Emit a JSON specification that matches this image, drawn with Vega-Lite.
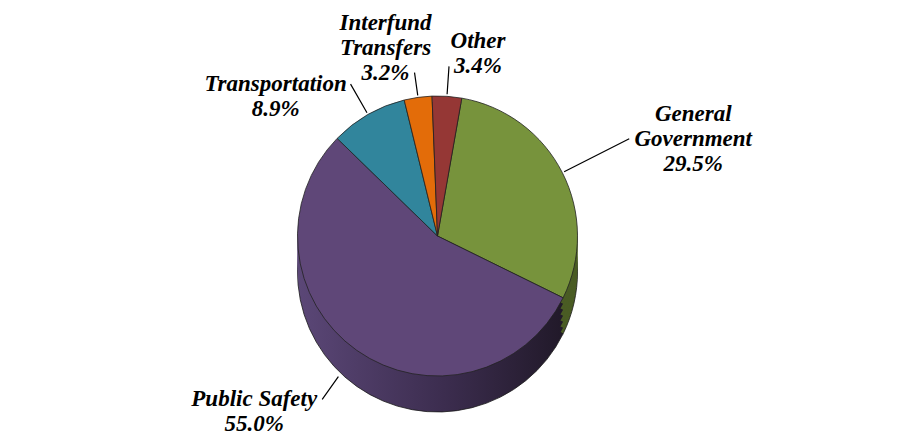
{
  "$schema": "https://vega.github.io/schema/vega-lite/v6.json",
  "width": 897,
  "height": 439,
  "padding": 0,
  "autosize": {"type": "fit", "contains": "padding"},
  "background": "white",
  "config": {
    "view": {"stroke": null},
    "text": {"font": "Liberation Serif", "fontSize": 23, "fontWeight": "bold", "fontStyle": "italic", "color": "#000000", "lineBreak": "\n", "lineHeight": 25, "align": "center", "baseline": "middle"}
  },
  "data": {
    "values": [
      {"k": 1, "name": "General Government", "pct": 29.5},
      {"k": 2, "name": "Public Safety", "pct": 55.0},
      {"k": 3, "name": "Transportation", "pct": 8.9},
      {"k": 4, "name": "Interfund Transfers", "pct": 3.2},
      {"k": 5, "name": "Other", "pct": 3.4}
    ]
  },
  "transform": [
    {"window": [{"op": "sum", "field": "pct", "as": "end"}], "sort": [{"field": "k"}], "frame": [null, 0]},
    {"calculate": "datum.end - datum.pct", "as": "start"},
    {"calculate": "datum.end - datum.pct / 2", "as": "mid"},
    {"calculate": "(datum.name === 'Public Safety' ? datum.name : replace(datum.name, ' ', '\\n')) + '\\n' + format(datum.pct, '.1f') + '%'", "as": "label"}
  ],
  "layer": [
    {
      "mark": {"type": "arc", "radius": 140, "xOffset": -11, "yOffset": 52.5, "stroke": "#1a1a1a", "strokeWidth": 0.8},
      "encoding": {
        "theta": {"field": "start", "type": "quantitative", "scale": {"domain": [0, 100], "range": [0.1745, 6.4577]}},
        "theta2": {"field": "end"},
        "fill": {
          "condition": {"test": "datum.k === 2", "value": {"gradient": "linear", "x1": 0, "y1": 0, "x2": 1, "y2": 0, "stops": [{"offset": 0, "color": "#5B4777"}, {"offset": 0.55, "color": "#3C2D4F"}, {"offset": 1, "color": "#211929"}]}},
          "field": "name", "type": "nominal",
          "scale": {"domain": ["General Government", "Public Safety", "Transportation", "Interfund Transfers", "Other"], "range": ["#4A5C24", "#3C2D4F", "#215A69", "#9A4906", "#642524"]},
          "legend": null
        }
      }
    },
    {
      "mark": {"type": "arc", "radius": 140, "xOffset": -11, "yOffset": 46.5},
      "encoding": {
        "theta": {"field": "start", "type": "quantitative", "scale": {"domain": [0, 100], "range": [0.1745, 6.4577]}},
        "theta2": {"field": "end"},
        "fill": {
          "condition": {"test": "datum.k === 2", "value": {"gradient": "linear", "x1": 0, "y1": 0, "x2": 1, "y2": 0, "stops": [{"offset": 0, "color": "#5B4777"}, {"offset": 0.55, "color": "#3C2D4F"}, {"offset": 1, "color": "#211929"}]}},
          "field": "name", "type": "nominal", "legend": null
        }
      }
    },
    {
      "mark": {"type": "arc", "radius": 140, "xOffset": -11, "yOffset": 40.5},
      "encoding": {
        "theta": {"field": "start", "type": "quantitative", "scale": {"domain": [0, 100], "range": [0.1745, 6.4577]}},
        "theta2": {"field": "end"},
        "fill": {
          "condition": {"test": "datum.k === 2", "value": {"gradient": "linear", "x1": 0, "y1": 0, "x2": 1, "y2": 0, "stops": [{"offset": 0, "color": "#5B4777"}, {"offset": 0.55, "color": "#3C2D4F"}, {"offset": 1, "color": "#211929"}]}},
          "field": "name", "type": "nominal", "legend": null
        }
      }
    },
    {
      "mark": {"type": "arc", "radius": 140, "xOffset": -11, "yOffset": 34.5},
      "encoding": {
        "theta": {"field": "start", "type": "quantitative", "scale": {"domain": [0, 100], "range": [0.1745, 6.4577]}},
        "theta2": {"field": "end"},
        "fill": {
          "condition": {"test": "datum.k === 2", "value": {"gradient": "linear", "x1": 0, "y1": 0, "x2": 1, "y2": 0, "stops": [{"offset": 0, "color": "#5B4777"}, {"offset": 0.55, "color": "#3C2D4F"}, {"offset": 1, "color": "#211929"}]}},
          "field": "name", "type": "nominal", "legend": null
        }
      }
    },
    {
      "mark": {"type": "arc", "radius": 140, "xOffset": -11, "yOffset": 28.5},
      "encoding": {
        "theta": {"field": "start", "type": "quantitative", "scale": {"domain": [0, 100], "range": [0.1745, 6.4577]}},
        "theta2": {"field": "end"},
        "fill": {
          "condition": {"test": "datum.k === 2", "value": {"gradient": "linear", "x1": 0, "y1": 0, "x2": 1, "y2": 0, "stops": [{"offset": 0, "color": "#5B4777"}, {"offset": 0.55, "color": "#3C2D4F"}, {"offset": 1, "color": "#211929"}]}},
          "field": "name", "type": "nominal", "legend": null
        }
      }
    },
    {
      "mark": {"type": "arc", "radius": 140, "xOffset": -11, "yOffset": 22.5},
      "encoding": {
        "theta": {"field": "start", "type": "quantitative", "scale": {"domain": [0, 100], "range": [0.1745, 6.4577]}},
        "theta2": {"field": "end"},
        "fill": {
          "condition": {"test": "datum.k === 2", "value": {"gradient": "linear", "x1": 0, "y1": 0, "x2": 1, "y2": 0, "stops": [{"offset": 0, "color": "#5B4777"}, {"offset": 0.55, "color": "#3C2D4F"}, {"offset": 1, "color": "#211929"}]}},
          "field": "name", "type": "nominal", "legend": null
        }
      }
    },
    {
      "mark": {"type": "arc", "radius": 140, "xOffset": -11, "yOffset": 16.5, "stroke": "#222222", "strokeWidth": 0.8},
      "encoding": {
        "theta": {"field": "start", "type": "quantitative", "scale": {"domain": [0, 100], "range": [0.1745, 6.4577]}},
        "theta2": {"field": "end"},
        "color": {
          "field": "name", "type": "nominal",
          "scale": {"domain": ["General Government", "Public Safety", "Transportation", "Interfund Transfers", "Other"], "range": ["#77933C", "#5F4778", "#31859C", "#E36C09", "#953735"]},
          "legend": null
        }
      }
    },
    {
      "transform": [{"filter": "datum.k === 1"}],
      "mark": {"type": "arc", "radius": 215, "radius2": 142, "xOffset": -11, "yOffset": 16.5, "filled": false, "stroke": "#000000", "strokeWidth": 1.2},
      "encoding": {
        "theta": {"field": "mid", "type": "quantitative", "scale": {"domain": [0, 100], "range": [0.1745, 6.4577]}},
        "theta2": {"field": "mid"}
      }
    },
    {
      "transform": [{"filter": "datum.k === 2"}],
      "mark": {"type": "arc", "radius": 200, "radius2": 172, "xOffset": -11, "yOffset": 16.5, "filled": false, "stroke": "#000000", "strokeWidth": 1.2},
      "encoding": {
        "theta": {"field": "mid", "type": "quantitative", "scale": {"domain": [0, 100], "range": [0.1745, 6.4577]}},
        "theta2": {"field": "mid"}
      }
    },
    {
      "transform": [{"filter": "datum.k === 3"}],
      "mark": {"type": "arc", "radius": 175, "radius2": 142, "xOffset": -11, "yOffset": 16.5, "filled": false, "stroke": "#000000", "strokeWidth": 1.2},
      "encoding": {
        "theta": {"field": "mid", "type": "quantitative", "scale": {"domain": [0, 100], "range": [0.1745, 6.4577]}},
        "theta2": {"field": "mid"}
      }
    },
    {
      "transform": [{"filter": "datum.k === 4"}],
      "mark": {"type": "arc", "radius": 165, "radius2": 142, "xOffset": -11, "yOffset": 16.5, "filled": false, "stroke": "#000000", "strokeWidth": 1.2},
      "encoding": {
        "theta": {"field": "mid", "type": "quantitative", "scale": {"domain": [0, 100], "range": [0.1745, 6.4577]}},
        "theta2": {"field": "mid"}
      }
    },
    {
      "transform": [{"filter": "datum.k === 5"}],
      "mark": {"type": "arc", "radius": 170, "radius2": 142, "xOffset": -11, "yOffset": 16.5, "filled": false, "stroke": "#000000", "strokeWidth": 1.2},
      "encoding": {
        "theta": {"field": "mid", "type": "quantitative", "scale": {"domain": [0, 100], "range": [0.1745, 6.4577]}},
        "theta2": {"field": "mid"}
      }
    },
    {
      "transform": [{"filter": "datum.k === 1"}],
      "mark": {"type": "text", "radius": 215, "xOffset": -11, "yOffset": 16.5, "dx": 64, "dy": -25},
      "encoding": {
        "theta": {"field": "mid", "type": "quantitative", "scale": {"domain": [0, 100], "range": [0.1745, 6.4577]}},
        "text": {"field": "label"}
      }
    },
    {
      "transform": [{"filter": "datum.k === 2"}],
      "mark": {"type": "text", "radius": 200, "xOffset": -11, "yOffset": 16.5, "dx": -68, "dy": 0},
      "encoding": {
        "theta": {"field": "mid", "type": "quantitative", "scale": {"domain": [0, 100], "range": [0.1745, 6.4577]}},
        "text": {"field": "label"}
      }
    },
    {
      "transform": [{"filter": "datum.k === 3"}],
      "mark": {"type": "text", "radius": 175, "xOffset": -11, "yOffset": 16.5, "dx": -75, "dy": 0},
      "encoding": {
        "theta": {"field": "mid", "type": "quantitative", "scale": {"domain": [0, 100], "range": [0.1745, 6.4577]}},
        "text": {"field": "label"}
      }
    },
    {
      "transform": [{"filter": "datum.k === 4"}],
      "mark": {"type": "text", "radius": 165, "xOffset": -11, "yOffset": 16.5, "dx": -29, "dy": -50},
      "encoding": {
        "theta": {"field": "mid", "type": "quantitative", "scale": {"domain": [0, 100], "range": [0.1745, 6.4577]}},
        "text": {"field": "label"}
      }
    },
    {
      "transform": [{"filter": "datum.k === 5"}],
      "mark": {"type": "text", "radius": 170, "xOffset": -11, "yOffset": 16.5, "dx": 29, "dy": -25},
      "encoding": {
        "theta": {"field": "mid", "type": "quantitative", "scale": {"domain": [0, 100], "range": [0.1745, 6.4577]}},
        "text": {"field": "label"}
      }
    }
  ]
}
